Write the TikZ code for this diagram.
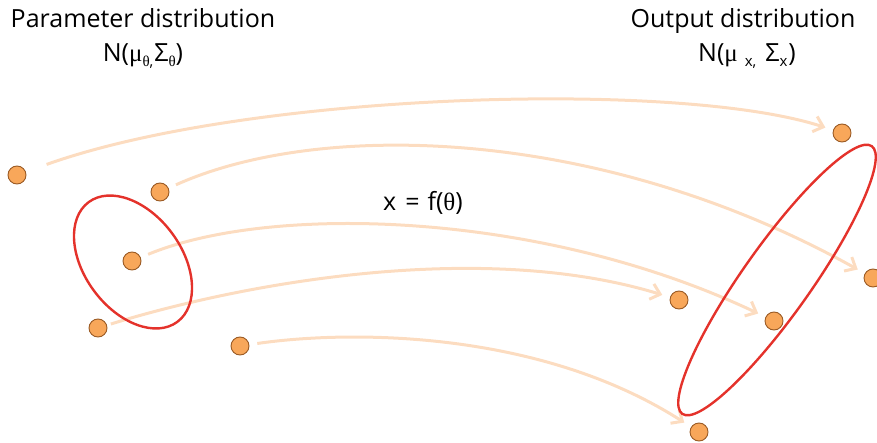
\documentclass[tikz,border=0pt]{standalone}
\usepackage{fontspec}
\setmainfont{Open Sans}
\newfontfamily\grk{Liberation Serif}
\usetikzlibrary{arrows.meta,backgrounds}
\definecolor{peach}{HTML}{FCDCC0}
\definecolor{dotfill}{HTML}{F8A75A}
\definecolor{dotline}{HTML}{9A5A24}
\definecolor{ellred}{HTML}{E4322B}
\newcommand{\sbs}[1]{\raisebox{-5pt}{\fontsize{15}{15}\selectfont #1}}
\begin{document}
\begin{tikzpicture}[x=1pt,y=1pt,
  pt/.style={circle, fill=dotfill, draw=dotline, line width=0.9pt, minimum size=18pt, inner sep=0pt},
  flow/.style={draw=peach, line width=3pt, -{Straight Barb[length=9pt,width=16pt]}, shorten <=8pt, shorten >=8pt},
  dist/.style={draw=ellred, line width=2.4pt},
  lbl/.style={font=\fontsize{25}{29}\selectfont, anchor=base, inner sep=0pt}]
\useasboundingbox (0,0) rectangle (877,442);

% points
\node[pt] (A1) at (17,267) {};
\node[pt] (A2) at (160,250) {};
\node[pt] (A3) at (132,181) {};
\node[pt] (A4) at (98,114) {};
\node[pt] (A5) at (240,96) {};
\node[pt] (B1) at (842,309) {};
\node[pt] (B2) at (873,164) {};
\node[pt] (B3) at (679,142) {};
\node[pt] (B4) at (774,121) {};
\node[pt] (B5) at (699,10) {};

\begin{scope}[on background layer]
% mappings
\draw[flow, shorten <=22pt] (A1) .. controls (250,350) and (680,362) .. (B1);
\draw[flow] (A2) .. controls (320,322) and (600,316) .. (B2);
\draw[flow] (A3) .. controls (270,238) and (540,232) .. (B4);
\draw[flow, shorten <=4pt] (A4) .. controls (240,158) and (480,203) .. (B3);
\draw[flow] (A5) .. controls (350,112) and (540,112) .. (B5);
% distributions
\draw[dist, rotate around={-53.5:(133,180)}] (133,180) ellipse [x radius=74.5, y radius=48.5];
\draw[dist, rotate around={54.7:(777,162)}] (777,162) ellipse [x radius=164, y radius=34];
\end{scope}

% labels
\node[lbl] (t1) at (143,414) {Parameter distribution};
\node[lbl] (s1) at (143,380) {N({\grk μ}\sbs{{\grk θ},}\kern1pt Σ\sbs{\grk θ})};
\node[lbl] (t2) at (743,414) {Output distribution};
\node[lbl] (s2) at (747,380) {N({\grk μ}\hspace{7pt}\sbs{x,}\hspace{9pt}Σ\sbs{x}\kern1pt)};
\node[lbl] (fx) at (423,231) {x\hspace{9pt}=\hspace{8pt}f({\grk θ})};
\end{tikzpicture}
\end{document}
